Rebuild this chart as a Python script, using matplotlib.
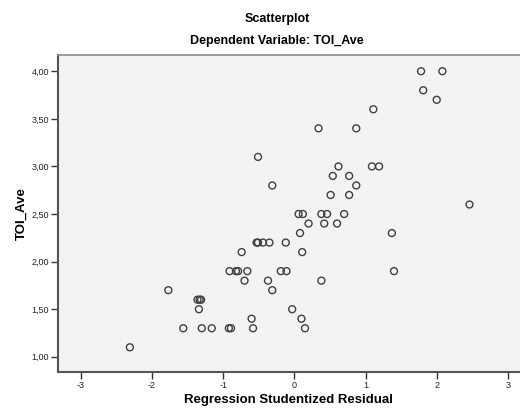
import matplotlib
matplotlib.use("Agg")
import matplotlib.pyplot as plt
import numpy as np

plt.rcParams['font.family'] = ['Liberation Sans', 'DejaVu Sans']

# studentized residual (x) and TOI_Ave (y)
resid = [1.78, 2.08, 1.81, 2.00, 1.11, 0.34, 0.87, -0.51,
         0.62, 1.09, 1.19, 0.54, 0.77, -0.31, 0.87, 0.51, 0.77, 2.46,
         0.06, 0.12, 0.38, 0.46, 0.70, 0.20, 0.42, 0.60, 0.08, 1.37,
         -0.53, -0.51, -0.44, -0.35, -0.12, -0.74, 0.11,
         -0.91, -0.82, -0.79, -0.66, -0.19, -0.11, 1.40,
         -0.70, -0.37, 0.38, -1.77, -0.31, -1.36, -1.33, -1.31,
         -1.34, -0.03, -0.60, 0.10,
         -1.56, -1.30, -1.16, -0.92, -0.89, -0.58, 0.15, -2.31]
toi = [4.0, 4.0, 3.8, 3.7, 3.6, 3.4, 3.4, 3.1,
       3.0, 3.0, 3.0, 2.9, 2.9, 2.8, 2.8, 2.7, 2.7, 2.6,
       2.5, 2.5, 2.5, 2.5, 2.5, 2.4, 2.4, 2.4, 2.3, 2.3,
       2.2, 2.2, 2.2, 2.2, 2.2, 2.1, 2.1,
       1.9, 1.9, 1.9, 1.9, 1.9, 1.9, 1.9,
       1.8, 1.8, 1.8, 1.7, 1.7, 1.6, 1.6, 1.6,
       1.5, 1.5, 1.4, 1.4,
       1.3, 1.3, 1.3, 1.3, 1.3, 1.3, 1.3, 1.1]

xticks = [-3, -2, -1, 0, 1, 2, 3]
yticks = [1.0, 1.5, 2.0, 2.5, 3.0, 3.5, 4.0]
ylabels = ["1,00", "1,50", "2,00", "2,50", "3,00", "3,50", "4,00"]

fig = plt.figure(figsize=(5.2, 4.12), dpi=100)
ax = fig.add_axes([0.1115, 0.097, 0.8885, 0.7694])
ax.set_facecolor('#f5f2f6')

ax.scatter(resid, toi, s=25, facecolors='none', edgecolors='#404040', linewidths=1.0)

ax.set_xlim(-3.32, 3.17)
ax.set_ylim(0.84, 4.17)
ax.set_xticks(xticks)
ax.set_xticklabels([str(t) for t in xticks])
ax.set_yticks(yticks)
ax.set_yticklabels(ylabels)
ax.tick_params(labelsize=6.5, length=5, width=1, color='#333333', labelcolor='#222222', pad=1.5)

ax.spines['right'].set_visible(False)
ax.spines['top'].set_color('#8a8a8a')
ax.spines['top'].set_linewidth(1.2)
for s in ['left', 'bottom']:
    ax.spines[s].set_color('#555555')
    ax.spines[s].set_linewidth(1.5)

ax.set_xlabel("Regression Studentized Residual", fontsize=9.5, fontweight='bold', labelpad=3)
ax.set_ylabel("TOI_Ave", fontsize=9.5, fontweight='bold', labelpad=3)

fig.text(0.533, 0.955, "Scatterplot", ha='center', va='center', fontsize=9, fontweight='bold')
fig.text(0.533, 0.90, "Dependent Variable: TOI_Ave", ha='center', va='center', fontsize=9, fontweight='bold')

fig.savefig("out.png", dpi=100)
